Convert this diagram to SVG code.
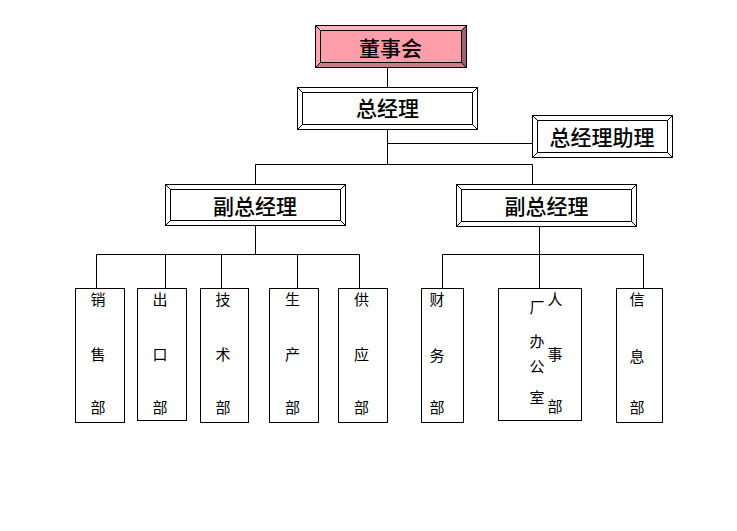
<svg xmlns="http://www.w3.org/2000/svg" width="737" height="531" viewBox="0 0 737 531">
<style>
.ln{stroke:#000;stroke-width:1;fill:none}
.frame{stroke:#000;stroke-width:1;fill:#fff}
.dept{stroke:#000;stroke-width:1;fill:#fff}
.big{font-family:"Noto Sans CJK SC","Noto Sans",sans-serif;font-size:21px;font-weight:500;fill:#000;text-anchor:middle}
.sm{font-family:"Noto Sans CJK SC","Noto Sans",sans-serif;font-size:15px;fill:#000;text-anchor:middle}
</style>
<rect width="737" height="531" fill="#fff"/>
<g id="connectors" class="ln">
<path d="M387.5 67.5V87.5M387.5 129.5V164.5M387.5 143.5H532.5M255.5 164.5H532.5M255.5 164.5V184.5M532.5 164.5V184.5"/>
<path d="M255.5 225.5V254.5M96.5 254.5H359.5M96.5 254.5V288.5M165.5 254.5V288.5M221.5 254.5V288.5M297.5 254.5V288.5M359.5 254.5V288.5"/>
<path d="M539.5 226.5V254.5M442.5 254.5H643.5M442.5 254.5V288.5M539.5 254.5V288.5M643.5 254.5V288.5"/>
</g>
<g id="board">
<polygon points="315.5,25.5 466.5,25.5 461.5,30.5 320.5,30.5" fill="#FFB4BE"/>
<polygon points="315.5,25.5 320.5,30.5 320.5,62.5 315.5,67.5" fill="#FFA8B3"/>
<polygon points="466.5,25.5 466.5,67.5 461.5,62.5 461.5,30.5" fill="#A0606A"/>
<polygon points="315.5,67.5 320.5,62.5 461.5,62.5 466.5,67.5" fill="#C87D88"/>
<rect x="320.5" y="30.5" width="141" height="32" fill="#FF9EAA" stroke="#000"/>
<rect x="315.5" y="25.5" width="151" height="42" fill="none" stroke="#000"/>
<path class="ln" d="M315.5 25.5L320.5 30.5M466.5 25.5L461.5 30.5M315.5 67.5L320.5 62.5M466.5 67.5L461.5 62.5"/>
<text class="big" x="390.5" y="55.5">董事会</text>
</g>
<g id="gm">
<rect class="frame" x="297.5" y="87.5" width="180" height="42"/>
<rect class="frame" x="302.5" y="92.5" width="170" height="32"/>
<path class="ln" d="M297.5 87.5L302.5 92.5M477.5 87.5L472.5 92.5M297.5 129.5L302.5 124.5M477.5 129.5L472.5 124.5"/>
<text class="big" x="387.5" y="115.5">总经理</text>
</g>
<g id="gm-assistant">
<rect class="frame" x="532.5" y="115.5" width="140" height="42"/>
<rect class="frame" x="537.5" y="120.5" width="130" height="32"/>
<path class="ln" d="M532.5 115.5L537.5 120.5M672.5 115.5L667.5 120.5M532.5 157.5L537.5 152.5M672.5 157.5L667.5 152.5"/>
<text class="big" x="602" y="144.5">总经理助理</text>
</g>
<g id="vp-left">
<rect class="frame" x="165.5" y="184.5" width="180" height="41"/>
<rect class="frame" x="170.5" y="189.5" width="170" height="31"/>
<path class="ln" d="M165.5 184.5L170.5 189.5M345.5 184.5L340.5 189.5M165.5 225.5L170.5 220.5M345.5 225.5L340.5 220.5"/>
<text class="big" x="255" y="214">副总经理</text>
</g>
<g id="vp-right">
<rect class="frame" x="456.5" y="184.5" width="180" height="42"/>
<rect class="frame" x="461.5" y="189.5" width="170" height="32"/>
<path class="ln" d="M456.5 184.5L461.5 189.5M636.5 184.5L631.5 189.5M456.5 226.5L461.5 221.5M636.5 226.5L631.5 221.5"/>
<text class="big" x="546.5" y="214">副总经理</text>
</g>
<g id="sales">
<rect class="dept" x="75.5" y="288.5" width="49" height="134"/>
<text class="sm" x="98" y="305">销</text><text class="sm" x="98" y="360">售</text><text class="sm" x="98" y="413">部</text>
</g>
<g id="export">
<rect class="dept" x="137.5" y="288.5" width="49" height="132"/>
<text class="sm" x="160" y="305">出</text><text class="sm" x="160" y="360">口</text><text class="sm" x="160" y="413">部</text>
</g>
<g id="tech">
<rect class="dept" x="200.5" y="288.5" width="48" height="134"/>
<text class="sm" x="223" y="305">技</text><text class="sm" x="223" y="360">术</text><text class="sm" x="223" y="413">部</text>
</g>
<g id="production">
<rect class="dept" x="269.5" y="288.5" width="49" height="134"/>
<text class="sm" x="292.5" y="305">生</text><text class="sm" x="292.5" y="360">产</text><text class="sm" x="292.5" y="413">部</text>
</g>
<g id="supply">
<rect class="dept" x="338.5" y="288.5" width="49" height="134"/>
<text class="sm" x="361.5" y="305">供</text><text class="sm" x="361.5" y="360">应</text><text class="sm" x="361.5" y="413">部</text>
</g>
<g id="finance">
<rect class="dept" x="421.5" y="288.5" width="42" height="134"/>
<text class="sm" x="437" y="305">财</text><text class="sm" x="437" y="361">务</text><text class="sm" x="437" y="413">部</text>
</g>
<g id="hr-office">
<rect class="dept" x="498.5" y="288.5" width="83" height="132"/>
<text class="sm" x="555" y="305">人</text>
<text class="sm" x="537" y="313">厂</text>
<text class="sm" x="537" y="347">办</text>
<text class="sm" x="555" y="360">事</text>
<text class="sm" x="537" y="372">公</text>
<text class="sm" x="537" y="403">室</text>
<text class="sm" x="555" y="412">部</text>
</g>
<g id="info">
<rect class="dept" x="616.5" y="288.5" width="46" height="134"/>
<text class="sm" x="637" y="305">信</text><text class="sm" x="637" y="362">息</text><text class="sm" x="637" y="413">部</text>
</g>
</svg>
